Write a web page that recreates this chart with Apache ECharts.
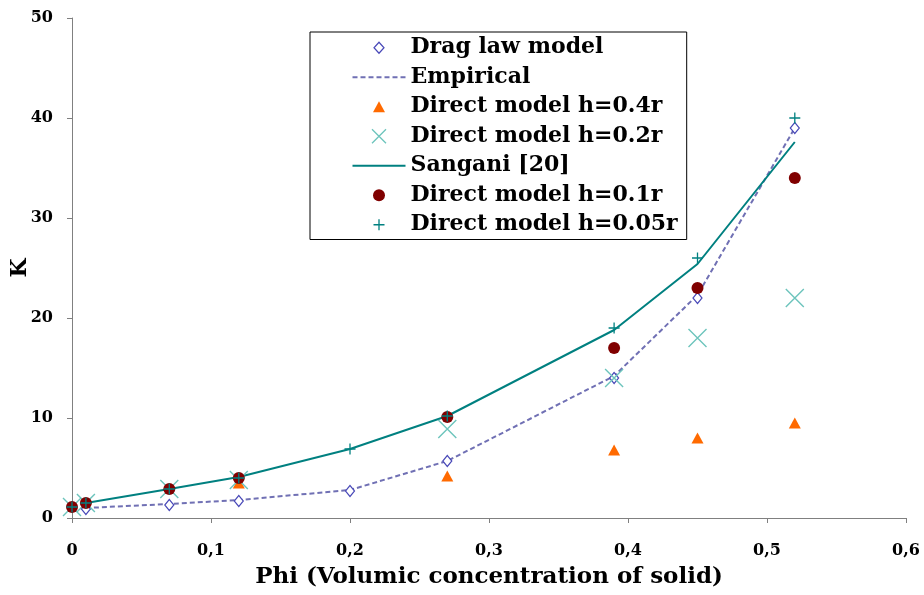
<!DOCTYPE html>
<html>
<head>
<meta charset="utf-8">
<script src="https://cdn.jsdelivr.net/npm/echarts@6/dist/echarts.min.js"></script>
<style>html,body{margin:0;padding:0;background:#fff}#c{width:924px;height:595px}</style>
</head>
<body>
<div id="c"></div>
<script>
// Data
const xTicks = [0, 0.1, 0.2, 0.3, 0.4, 0.5, 0.6];
const yTicks = [0, 10, 20, 30, 40, 50];

const phiDrag = [0.01, 0.07, 0.12, 0.2, 0.27, 0.39, 0.45, 0.52];
const kDrag   = [0.9, 1.3, 1.7, 2.7, 5.7, 14, 22, 39];

const phiEmp = [0.01, 0.07, 0.12, 0.2, 0.27, 0.39, 0.45, 0.52];
const kEmp   = [1.0, 1.4, 1.8, 2.8, 5.7, 14.2, 22.3, 39];

const phiH04 = [0.12, 0.27, 0.39, 0.45, 0.52];
const kH04   = [3.5, 4.2, 6.8, 8.0, 9.5];

const phiH02 = [0, 0.01, 0.07, 0.12, 0.27, 0.39, 0.45, 0.52];
const kH02   = [1.1, 1.5, 2.9, 3.8, 8.9, 14, 18, 22];

const phiSang = [0.01, 0.07, 0.12, 0.2, 0.27, 0.39, 0.45, 0.52];
const kSang   = [1.5, 2.9, 4.1, 6.9, 10.2, 18.8, 25.4, 37.6];

const phiH01 = [0, 0.01, 0.07, 0.12, 0.27, 0.39, 0.45, 0.52];
const kH01   = [1.1, 1.5, 2.9, 4.0, 10.1, 17, 23, 34];

const phiH005 = [0, 0.01, 0.07, 0.12, 0.2, 0.27, 0.39, 0.45, 0.52];
const kH005   = [1.1, 1.5, 2.9, 4.0, 6.9, 10.2, 19, 26, 40];

const pairs = (xs, ys) => xs.map((x, i) => [x, ys[i]]);
const FONT = 'DejaVu Serif';
const fmtX = v => (v === 0 ? '0' : v.toFixed(1).replace('.', ','));

// legend icons drawn in a 53x14 box (the leading moves fix the box)
const BOX = 'path://M0,0M53,14';
const icons = {
  diamond: BOX + 'M26.5,1.5L31.5,7L26.5,12.5L21.5,7Z',
  dashed: BOX + 'M0,7L5,7M8,7L13,7M16,7L21,7M24,7L29,7M32,7L37,7M40,7L45,7M48,7L53,7',
  triangle: BOX + 'M26.5,1.5L32.5,12.5L20.5,12.5Z',
  cross: BOX + 'M19.5,0L33.5,14M33.5,0L19.5,14',
  solid: BOX + 'M0,7L53,7',
  circle: BOX + 'M32.5,7A6,6,0,1,1,20.5,7A6,6,0,1,1,32.5,7Z',
  plus: BOX + 'M26.5,1.5L26.5,12.5M21,7L32,7'
};

const C = {
  drag: '#4848b8', emp: '#7070b4', h04: '#ff6a00', h02: '#6cc4bc',
  sang: '#008080', h01: '#800000', h005: '#008080'
};

const chart = echarts.init(document.getElementById('c'), null, {renderer: 'canvas'});
chart.setOption({
  animation: false,
  backgroundColor: '#fff',
  grid: {left: 72, right: 18, top: 18, bottom: 77, outerBoundsMode: 'none', containLabel: false},
  legend: {
    orient: 'vertical',
    left: 310, top: 32,
    padding: [1, 9, 0, 40],
    itemWidth: 53, itemHeight: 14, itemGap: 0,
    symbolKeepAspect: true,
    backgroundColor: '#fff',
    borderColor: '#000', borderWidth: 1,
    textStyle: {fontFamily: FONT, fontWeight: 'bold', fontSize: 22, color: '#000', lineHeight: 29.5},
    data: [
      {name: 'Drag law model', icon: icons.diamond, itemStyle: {color: '#fff', borderColor: C.drag, borderWidth: 1.2}},
      {name: 'Empirical', icon: icons.dashed, itemStyle: {color: 'none', borderColor: C.emp, borderWidth: 2}},
      {name: 'Direct model h=0.4r', icon: icons.triangle, itemStyle: {color: C.h04, borderWidth: 0}},
      {name: 'Direct model h=0.2r', icon: icons.cross, itemStyle: {color: 'none', borderColor: C.h02, borderWidth: 1.3}},
      {name: 'Sangani [20]', icon: icons.solid, itemStyle: {color: 'none', borderColor: C.sang, borderWidth: 2}},
      {name: 'Direct model h=0.1r', icon: icons.circle, itemStyle: {color: C.h01, borderWidth: 0}},
      {name: 'Direct model h=0.05r', icon: icons.plus, itemStyle: {color: 'none', borderColor: C.h005, borderWidth: 1.3}}
    ]
  },
  xAxis: {
    type: 'value', min: 0, max: 0.6, interval: 0.1,
    name: 'Phi (Volumic concentration of solid)',
    nameLocation: 'middle', nameGap: 48,
    nameTextStyle: {fontFamily: FONT, fontWeight: 'bold', fontSize: 23, color: '#000'},
    axisLine: {lineStyle: {color: '#808080', width: 1}},
    axisTick: {show: true, inside: false, length: 5, lineStyle: {color: '#808080'}},
    axisLabel: {formatter: fmtX, margin: 25, fontFamily: FONT, fontWeight: 'bold', fontSize: 16, color: '#000'},
    splitLine: {show: false}
  },
  yAxis: {
    type: 'value', min: 0, max: 50, interval: 10,
    name: 'K', nameLocation: 'middle', nameGap: 52,
    nameMoveOverlap: false,
    nameRotate: 90,
    nameTextStyle: {fontFamily: FONT, fontWeight: 'bold', fontSize: 22, color: '#000', verticalAlign: 'middle'},
    axisLine: {show: true, lineStyle: {color: '#808080', width: 1}},
    axisTick: {show: true, inside: false, length: 5, lineStyle: {color: '#808080'}},
    axisLabel: {margin: 19, fontFamily: FONT, fontWeight: 'bold', fontSize: 16, color: '#000'},
    splitLine: {show: false}
  },
  series: [
    {
      name: 'Empirical', type: 'line', data: pairs(phiEmp, kEmp),
      symbol: 'none', z: 2,
      lineStyle: {color: C.emp, width: 2, type: [5, 3]},
      itemStyle: {color: C.emp}
    },
    {
      name: 'Sangani [20]', type: 'line', data: pairs(phiSang, kSang),
      symbol: 'none', z: 2,
      lineStyle: {color: C.sang, width: 2},
      itemStyle: {color: C.sang}
    },
    {
      name: 'Drag law model', type: 'scatter', data: pairs(phiDrag, kDrag),
      symbol: 'diamond', symbolSize: [9, 11], z: 3,
      itemStyle: {color: '#fff', borderColor: C.drag, borderWidth: 1.2, opacity: 1}
    },
    {
      name: 'Direct model h=0.4r', type: 'scatter', data: pairs(phiH04, kH04),
      symbol: 'triangle', symbolSize: [12, 11], z: 3,
      itemStyle: {color: C.h04, opacity: 1}
    },
    {
      name: 'Direct model h=0.2r', type: 'scatter', data: pairs(phiH02, kH02),
      symbol: 'path://M0,0L10,10M10,0L0,10', symbolSize: 18, z: 3,
      itemStyle: {color: 'none', borderColor: C.h02, borderWidth: 1.4, opacity: 1}
    },
    {
      name: 'Direct model h=0.1r', type: 'scatter', data: pairs(phiH01, kH01),
      symbol: 'circle', symbolSize: 12, z: 4,
      itemStyle: {color: C.h01, opacity: 1}
    },
    {
      name: 'Direct model h=0.05r', type: 'scatter', data: pairs(phiH005, kH005),
      symbol: 'path://M5,0L5,10M0,5L10,5', symbolSize: 11, z: 5,
      itemStyle: {color: 'none', borderColor: C.h005, borderWidth: 1.3, opacity: 1}
    }
  ]
});
</script>
</body>
</html>
